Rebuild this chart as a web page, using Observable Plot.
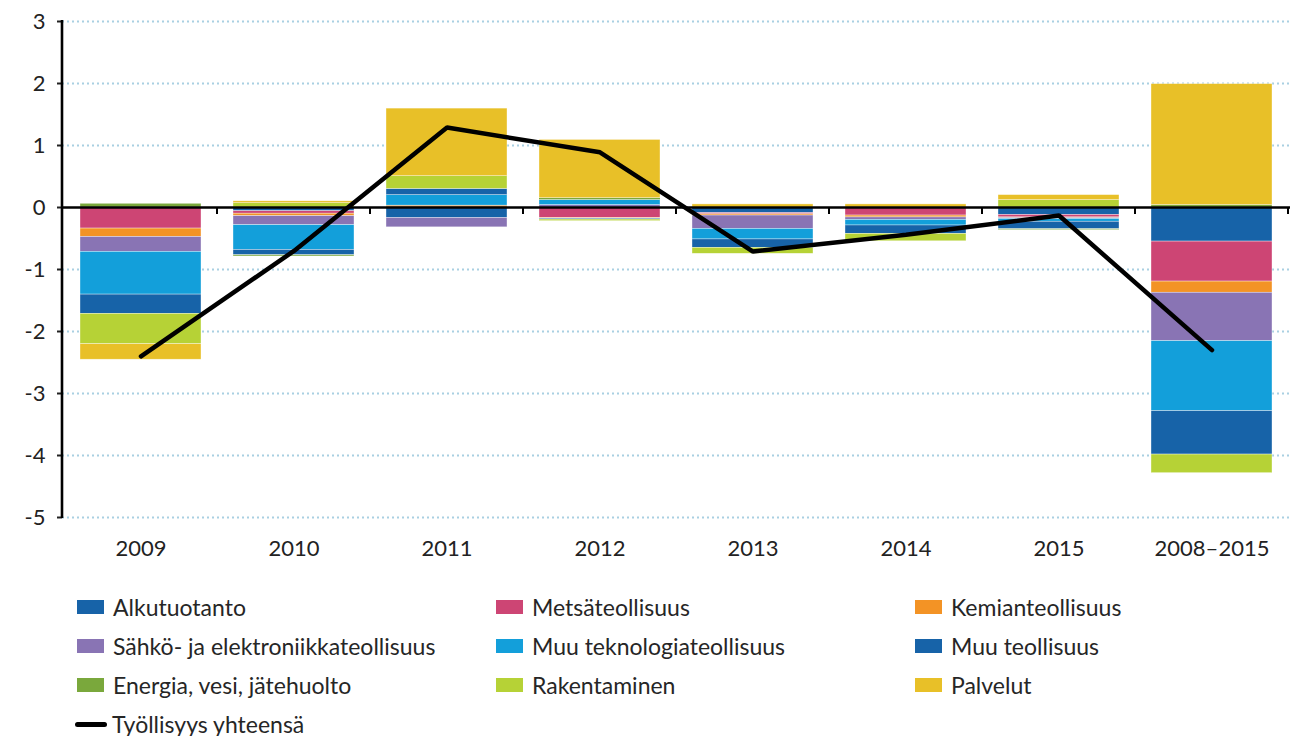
<!DOCTYPE html>
<html>
<head>
<meta charset="utf-8">
<script src="https://cdn.jsdelivr.net/npm/d3@7"></script>
<script src="https://cdn.jsdelivr.net/npm/@observablehq/plot@0.6"></script>
<style>
  body { margin: 0; background: #fff; font-family: Lato, "Open Sans", sans-serif; }
  #wrap { position: relative; width: 1291px; height: 736px; }
  #legend { position: absolute; left: 0; top: 570px; width: 1291px; height: 166px; }
  .item { position: absolute; display: flex; align-items: center; font-size: 23px; color: #262626; white-space: nowrap; }
  .sw { width: 27px; height: 14px; margin-right: 9px; }
  .ln { width: 32px; height: 5px; border-radius: 3px; background: #000; margin-right: 5px; }
</style>
</head>
<body>
<div id="wrap">
  <div id="chart"></div>
  <div id="legend"></div>
</div>
<script>
const years = ["2009", "2010", "2011", "2012", "2013", "2014", "2015", "2008–2015"];
const seriesNames = ["Alkutuotanto", "Metsäteollisuus", "Kemianteollisuus", "Sähkö- ja elektroniikkateollisuus", "Muu teknologiateollisuus", "Muu teollisuus", "Energia, vesi, jätehuolto", "Rakentaminen", "Palvelut"];
const seriesColors = ["#1763a8", "#cd4574", "#f39325", "#8974b4", "#139fda", "#1763a8", "#7aa83c", "#b6d236", "#e8c028"];

const alkutuotanto = [0, -0.06, -0.17, 0, -0.09, 0, -0.12, -0.55];
const metsateollisuus = [-0.34, -0.04, 0, -0.17, -0.02, -0.13, -0.04, -0.645];
const kemianteollisuus = [-0.135, -0.04, 0.03, -0.01, -0.02, -0.03, -0.01, -0.18];
const sahko = [-0.24, -0.145, -0.15, 0.04, -0.215, -0.04, -0.015, -0.78];
const muuTeknologia = [-0.69, -0.40, 0.17, 0.08, -0.17, -0.09, -0.045, -1.13];
const muuTeollisuus = [-0.31, -0.085, 0.10, -0.015, -0.135, -0.135, -0.12, -0.70];
const energia = [0.06, -0.02, 0, 0.03, 0, 0, -0.015, 0.04];
const rakentaminen = [-0.49, 0.07, 0.205, -0.025, -0.097, -0.12, 0.12, -0.30];
const palvelut = [-0.25, 0.03, 1.09, 0.94, 0.05, 0.05, 0.08, 1.95];
const tyollisyys = [-2.40, -0.70, 1.29, 0.89, -0.71, -0.44, -0.13, -2.30];

const yTicks = [-5, -4, -3, -2, -1, 0, 1, 2, 3];
const lineLabel = "Työllisyys yhteensä";

const seriesValues = [alkutuotanto, metsateollisuus, kemianteollisuus, sahko, muuTeknologia, muuTeollisuus, energia, rakentaminen, palvelut];
const rows = [];
seriesNames.forEach((s, i) => years.forEach((y, j) => rows.push({year: y, series: s, value: seriesValues[i][j]})));
const lineRows = years.map((y, j) => ({year: y, value: tyollisyys[j]}));

const W = 1291, H = 570, mL = 62, mR = 1, mT = 21, mB = 53;

const plot = Plot.plot({
  width: W, height: H,
  marginLeft: mL, marginRight: mR, marginTop: mT, marginBottom: mB,
  style: {fontFamily: "Lato, 'Open Sans', sans-serif", fontSize: "22px", color: "#222", background: "#fff"},
  x: {domain: years, paddingInner: 0.21, paddingOuter: 0.105, label: null},
  y: {domain: [-5, 3], label: null},
  color: {domain: seriesNames, range: seriesColors},
  marks: [
    Plot.gridY(yTicks.filter(d => d !== 0), {stroke: "#a9d0e2", strokeOpacity: 1, strokeWidth: 2.2, strokeDasharray: "2,3"}),
    Plot.barY(rows, Plot.stackY({order: seriesNames}, {x: "year", y: "value", fill: "series", stroke: "#ffffff", strokeWidth: 0.6, strokeOpacity: 0.6})),
    Plot.ruleY([0], {stroke: "#000", strokeWidth: 2.6}),
    Plot.line(lineRows, {x: "year", y: "value", stroke: "#000", strokeWidth: 4.5, strokeLinecap: "round", strokeLinejoin: "miter"}),
    Plot.axisX({tickSize: 0, tickPadding: 23, fontSize: 22, label: null}),
    Plot.axisY({ticks: yTicks, tickFormat: d => String(d), tickSize: 5, tickPadding: 12, fontSize: 22, label: null, strokeWidth: 2})
  ]
});
document.getElementById("chart").appendChild(plot);

// vertical axis line and category separators, positioned from the plot's own scales
const xs = plot.scale("x"), ys = plot.scale("y");
const svg = d3.select(plot);
const g = svg.append("g");
g.append("line")
  .attr("x1", mL).attr("x2", mL)
  .attr("y1", ys.apply(3) - 1).attr("y2", ys.apply(-5) + 1)
  .attr("stroke", "#000").attr("stroke-width", 2.6);
const step = xs.step;
years.forEach(y => {
  const xb = xs.apply(y) + xs.bandwidth + (step - xs.bandwidth) / 2;
  g.append("line")
    .attr("x1", xb).attr("x2", xb)
    .attr("y1", ys.apply(0)).attr("y2", ys.apply(0) + 7)
    .attr("stroke", "#000").attr("stroke-width", 2);
});

// legend
const legend = document.getElementById("legend");
const colX = [77, 496, 915];
const rowY = [37, 76, 115, 154];
seriesNames.forEach((s, i) => {
  const d = document.createElement("div");
  d.className = "item";
  d.style.left = colX[i % 3] + "px";
  d.style.top = (rowY[Math.floor(i / 3)] - 14) + "px";
  d.style.height = "28px";
  d.innerHTML = `<span class="sw" style="background:${seriesColors[i]}"></span><span>${s}</span>`;
  legend.appendChild(d);
});
const dl = document.createElement("div");
dl.className = "item";
dl.style.left = "75px";
dl.style.top = (rowY[3] - 14) + "px";
dl.style.height = "28px";
dl.innerHTML = `<span class="ln"></span><span>${lineLabel}</span>`;
legend.appendChild(dl);
</script>
</body>
</html>
